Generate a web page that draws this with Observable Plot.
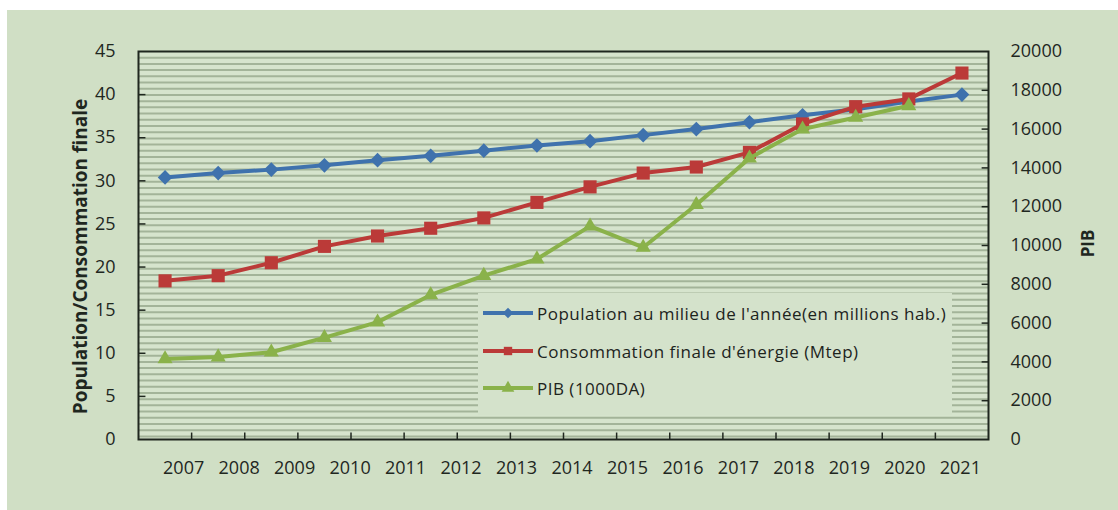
<!DOCTYPE html>
<html>
<head>
<meta charset="utf-8">
<script src="https://cdn.jsdelivr.net/npm/d3@7"></script>
<script src="https://cdn.jsdelivr.net/npm/@observablehq/plot@0.6"></script>
<style>
  html, body { margin: 0; padding: 0; background: #ffffff; }
  #card { position: absolute; left: 7px; top: 10px; width: 1111px; height: 500px; background: #d0dfc5; overflow: hidden; }
  #chart { position: absolute; left: 0; top: 0; }
  #legend { position: absolute; left: 471px; top: 283px; width: 474px; height: 122px; background: #d4e2cb;
            font-family: "Open Sans", sans-serif; font-size: 17px; letter-spacing: 0.5px; color: #1d241d; }
  #legend .row { position: absolute; left: 5px; height: 20px; display: flex; align-items: center; white-space: nowrap; }
  #legend .row svg { margin-right: 4px; flex: none; }
</style>
</head>
<body>
<div id="card">
  <div id="chart"></div>
  <div id="legend"></div>
</div>
<script>
// Year labels shown under the axis
const years = ["2007", "2008", "2009", "2010", "2011", "2012", "2013", "2014",
               "2015", "2016", "2017", "2018", "2019", "2020", "2021"];

// Population au milieu de l'année (millions hab.) — left axis
const population = [30.4, 30.9, 31.3, 31.8, 32.4, 32.9, 33.5, 34.1,
                    34.6, 35.3, 36.0, 36.8, 37.6, 38.3, 39.2, 40.0];

// Consommation finale d'énergie (Mtep) — left axis
const consommation = [18.4, 19.0, 20.5, 22.4, 23.6, 24.5, 25.7, 27.5,
                      29.3, 30.9, 31.6, 33.3, 36.6, 38.6, 39.5, 42.5];

// PIB (1000DA) — right axis
const pib = [4150, 4250, 4500, 5250, 6050, 7450, 8450, 9300,
             11000, 9900, 12100, 14500, 16000, 16600, 17200];

const seriesNames = [
  "Population au milieu de l'année(en millions hab.)",
  "Consommation finale d'énergie (Mtep)",
  "PIB (1000DA)"
];
const colors = ["#3f72ad", "#bb3a38", "#8ab24a"];

const leftMax = 45;
const rightMax = 20000;
const toLeft = v => v * leftMax / rightMax;   // right-axis value -> left-axis units
const nSlots = population.length;

const rows = (values, name) => values.map((v, i) => ({slot: i + 0.5, value: v, name}));
const popData = rows(population, seriesNames[0]);
const consData = rows(consommation, seriesNames[1]);
const pibData = rows(pib.map(toLeft), seriesNames[2]);

// year labels spread across the category band
const labelPos = d3.scaleLinear().domain([0, years.length - 1]).range([0.85, 15.47]);

const ink = "#1f271f";
const W = 1111, H = 500;

const chart = Plot.plot({
  width: W,
  height: H,
  marginLeft: 131,
  marginRight: 130,
  marginTop: 41,
  marginBottom: 71,
  style: {background: "transparent", fontFamily: "'Open Sans', sans-serif", overflow: "visible"},
  x: {domain: [0, nSlots], axis: null},
  y: {domain: [0, leftMax], axis: null},
  marks: [
    // plot area with narrow horizontal stripes
    Plot.frame({fill: "#d6e4cd"}),
    Plot.ruleY(d3.range(0.36, leftMax, 0.72), {stroke: "#a3b499", strokeWidth: 2}),

    // series
    Plot.line(popData, {x: "slot", y: "value", stroke: colors[0], strokeWidth: 4}),
    Plot.dot(popData, {x: "slot", y: "value", symbol: "diamond2", r: 6.6, fill: colors[0], stroke: "none"}),
    Plot.line(consData, {x: "slot", y: "value", stroke: colors[1], strokeWidth: 4}),
    Plot.dot(consData, {x: "slot", y: "value", symbol: "square", r: 7.4, fill: colors[1], stroke: "none"}),
    Plot.line(pibData, {x: "slot", y: "value", stroke: colors[2], strokeWidth: 4}),
    Plot.dot(pibData, {x: "slot", y: "value", symbol: "triangle", r: 5.6, fill: colors[2], stroke: "none"}),

    // frame and inward tick marks
    Plot.frame({stroke: ink, strokeWidth: 2}),
    Plot.ruleX(d3.range(1, nSlots), {y1: 0, y2: 0.75, stroke: ink, strokeWidth: 1.5}),
    Plot.ruleY(d3.range(5, leftMax, 5), {x1: 0, x2: 0.14, stroke: ink, strokeWidth: 1.5}),
    Plot.ruleY(d3.range(2000, rightMax, 2000).map(toLeft), {x1: nSlots - 0.12, x2: nSlots, stroke: ink, strokeWidth: 1.5}),

    // axes
    Plot.axisY({anchor: "left", ticks: d3.range(0, leftMax + 1, 5), tickSize: 0, tickPadding: 23,
                fontSize: 18, fill: ink, label: null}),
    Plot.axisY({anchor: "right", ticks: d3.range(0, rightMax + 1, 2000).map(toLeft), tickSize: 0, tickPadding: 22,
                tickFormat: d => String(Math.round(d * rightMax / leftMax)), fontSize: 18, fill: ink, label: null}),
    Plot.text(years, {x: (d, i) => labelPos(i), y: 0, dy: 29, text: d => d, fontSize: 18, fill: ink}),

    // axis titles
    Plot.text(["Population/Consommation finale"], {frameAnchor: "left", textAnchor: "middle", rotate: -90,
               dx: -58, dy: 11, fontSize: 19, fontWeight: "bold", fill: ink}),
    Plot.text(["PIB"], {frameAnchor: "right", textAnchor: "middle", rotate: -90,
               dx: 100, dy: -2, fontSize: 17, fontWeight: "bold", fill: ink})
  ]
});
document.getElementById("chart").appendChild(chart);

// legend
const legend = d3.select("#legend");
const rowTops = [10, 48, 85];
const legendSymbols = [d3.symbolDiamond2, d3.symbolSquare, d3.symbolTriangle];
seriesNames.forEach((name, i) => {
  const row = legend.append("div").attr("class", "row").style("top", rowTops[i] + "px");
  const svg = row.append("svg").attr("width", 50).attr("height", 20);
  svg.append("line").attr("x1", 0).attr("x2", 50).attr("y1", 10).attr("y2", 10)
     .attr("stroke", colors[i]).attr("stroke-width", 4);
  svg.append("path").attr("transform", "translate(25,10)")
     .attr("d", d3.symbol(legendSymbols[i], 70)()).attr("fill", colors[i]);
  row.append("span").text(name);
});
</script>
</body>
</html>
